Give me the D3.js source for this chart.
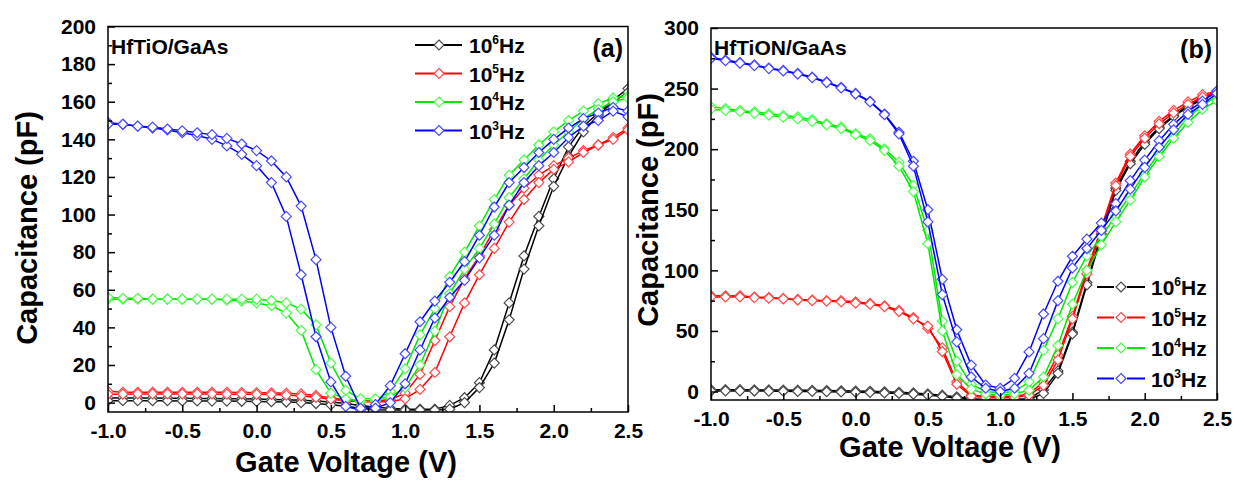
<!DOCTYPE html>
<html>
<head>
<meta charset="utf-8">
<script src="https://cdn.jsdelivr.net/npm/d3@7"></script>
<style>
body{margin:0;background:#fff;}
svg{font-family:"Liberation Sans",Arial,sans-serif;font-weight:bold;}
</style>
</head>
<body>
<svg id="screen" width="1236" height="483"></svg>
<script>
// gate voltage sweep (V), same for every curve
var voltage=[-1.0,-0.9,-0.8,-0.7,-0.6,-0.5,-0.4,-0.3,-0.2,-0.1,0.0,0.1,0.2,0.3,0.4,0.5,0.6,0.7,0.8,0.9,1.0,1.1,1.2,1.3,1.4,1.5,1.6,1.7,1.8,1.9,2.0,2.1,2.2,2.3,2.4,2.5];
var freqExp=["6","5","4","3"];
var xTicks=[-1.0,-0.5,0.0,0.5,1.0,1.5,2.0,2.5];
var aYTicks=[0,20,40,60,80,100,120,140,160,180,200];
var bYTicks=[0,50,100,150,200,250,300];

// (a) HfTiO/GaAs, capacitance in pF, two sweeps per frequency
var aBlackF=[2.5,2.5,2.4,2.4,2.3,2.3,2.2,2.2,2.1,2.0,1.9,1.7,1.5,1.2,0.8,0.3,-0.5,-1.5,-2.5,-3.0,-3.5,-3.5,-3.5,-1.5,2.6,10.6,28,53,78,99,119,136,147,154,161,167];
var aBlackR=[1.0,1.0,1.0,1.0,1.0,0.9,0.9,0.8,0.8,0.7,0.6,0.5,0.3,0.0,-0.5,-1.2,-2.0,-3.0,-3.8,-4.0,-4.0,-4.0,-4.0,-3.5,0.0,8,21,44,71,94,115,131,144,153,160,165];
var aRedF=[6.0,5.5,5.5,5.5,5.5,5.5,5.5,5.5,5.5,5.4,5.3,5.2,5.0,4.6,3.8,2.5,1.5,1.0,1.0,1.5,5,15,33,51,66,78,92,105,114,121,126,130,134,137,141,146];
var aRedR=[4.5,4.5,4.6,4.6,4.6,4.6,4.6,4.6,4.5,4.5,4.4,4.3,4.0,3.5,2.8,1.8,1.0,0.5,0.5,0.5,2,7,16,35,53,68,82,96,108,117,124,128,133,137,140,145];
var aGreenF=[55,55,55,55,55,55,55,55,54.5,54,53,51.5,47.6,38.4,17.5,5,2,0.5,1,6,18,36,50,67,80,94,108,121,129,137,144,150,155,159,162,163];
var aGreenR=[56,55.5,55.5,55,55,55,55,55,55,55,55,54.3,53,49.7,41.4,21,6.5,2,2,3,8,20,38,58,71,82,95,109,119,129,137,144,151,156,160,162];
var aBlueF=[149,148,147,146,145,143.5,142,140,136.5,132,126,117,99,68,35,11,-2,-4,-1,9,26,43,54,64,75,89,104,117,125,133,140,146,151,154,157,155];
var aBlueR=[148,148,147,146.5,145.5,144.5,143.5,142.5,140.5,137.5,134,128.5,120,104.5,76,40,14,-3,-3,0,10,28,45,56,65,77,89,105,117,126,133,141,147,150,155,152];

// (b) HfTiON/GaAs
var bBlackF=[1.5,1.5,1.5,1.4,1.3,1.2,1.1,1.0,0.8,0.6,0.4,0.2,-0.2,-0.6,-1.2,-2,-3,-4.5,-6,-6.5,-6.5,-6.5,-6,1.5,17,49,90,130,168,190,206,218,228,236,242,248];
var bBlackR=[0.5,0.5,0.5,0.4,0.3,0.2,0.1,0,-0.2,-0.4,-0.6,-0.8,-1.2,-1.6,-2.2,-3,-4,-5.5,-6.5,-7,-7,-7,-6.5,-1.5,15,47.5,88,128,166,188,204,217,227,235,241,247];
var bRedF=[79,79,79,78,77.6,76.8,76,75.5,75,75,74,72.7,70.8,67,61,52,36,8,-3,-4,-4,-4,-2,8,30,62,100,135,172,196,211,223,232,239,245,248];
var bRedR=[78,78,78,77.5,77,76.5,75.5,75,74.5,74,73,72,70,66,60,54,33,6,-4,-5,-5,-5,-3,5,26,60,97,132,170,194,209,221,230,237,243,247];
var bGreenF=[235,233.5,232,230.7,229.3,227.9,226.6,224.4,221,218.3,212.8,208.6,200.3,189.3,170,133,58,25,6,0,-1,0,8,34,60,90,112,128,145,162,180,197,212,226,236,244];
var bGreenR=[233,232,231,229.5,228,226.5,225,223,220,217,212,207,199,186,165,122,50,14,2,-2,-3,-2,1,12,38,72,100,121,140,158,177,194,209,222,233,240];
var bBlueF=[276,273.5,271.5,269.5,267,265,262.5,259.5,255.5,251,246,239.5,229,214,190,150,92.6,51,21.8,5.4,2.7,10.9,32.7,64,91,111.6,125.8,139,155,174,191,207,220.5,231,239.6,248];
var bBlueR=[275,273,271,269,266.5,264.5,262,259,255,250.5,245.5,239,228.5,212.5,186,140,80,41,12,2.7,0,2.7,15,43.6,75,102,118,133,149,167,185,201.5,216,228.7,237,246];

var lineColors=["#000000","#ff0000","#00e800","#0000ff"];
var markColors=["#4a4a4a","#ff4a4a","#4aff4a","#4a4aff"];

var svg=d3.select("#screen");
var diamond="M0,-5L5,0L0,5L-5,0Z";

// tick text with a plain hyphen, like the original
function fmtV(d){ return d.toFixed(1); }

function drawPanel(p){
    var x=d3.scaleLinear().domain([-1,2.5]).range([p.left,p.right]);
    var y=d3.scaleLinear().domain(p.yDomain).range([p.bottom,p.top]);
    var g=svg.append("g");

    g.append("clipPath").attr("id","clip"+p.id).append("rect")
        .attr("x",p.left).attr("y",p.top).attr("width",p.right-p.left).attr("height",p.bottom-p.top);

    var plot=g.append("g").attr("clip-path","url(#clip"+p.id+")");
    var line=d3.line().x(function(d){return x(d[0]);}).y(function(d){return y(d[1]);});

    p.series.forEach(function(pair,k){
        pair.forEach(function(vals){
            var pts=voltage.map(function(v,i){return [v,vals[i]];});
            plot.append("path").datum(pts).attr("d",line)
                .attr("fill","none").attr("stroke",lineColors[k]).attr("stroke-width",1.5);
            plot.selectAll(null).data(pts).enter().append("path")
                .attr("d",diamond)
                .attr("transform",function(d){return "translate("+x(d[0])+","+y(d[1])+")";})
                .attr("fill","#fff").attr("stroke",markColors[k]).attr("stroke-width",1.2);
        });
    });

    // frame
    g.append("rect").attr("x",p.left).attr("y",p.top).attr("width",p.right-p.left).attr("height",p.bottom-p.top)
        .attr("fill","none").attr("stroke","#000").attr("stroke-width",1.5);

    // bottom axis, ticks inside
    var xAxis=d3.axisBottom(x).tickValues(xTicks).tickSize(-7).tickPadding(11).tickFormat(fmtV);
    var gx=g.append("g").attr("transform","translate(0,"+p.bottom+")").call(xAxis);
    gx.select(".domain").remove();
    gx.selectAll("text").attr("font-size",21).attr("font-family","Liberation Sans, Arial, sans-serif").attr("font-weight","bold").attr("fill","#000");
    gx.selectAll("line").attr("stroke-width",1.5);
    var xMinor=d3.axisBottom(x).tickValues(xTicks.slice(1).map(function(d){return d-0.25;})).tickSize(-4).tickFormat("");
    var gxm=g.append("g").attr("transform","translate(0,"+p.bottom+")").call(xMinor);
    gxm.select(".domain").remove();
    gxm.selectAll("line").attr("stroke-width",1.5);

    // left axis
    var yAxis=d3.axisLeft(y).tickValues(p.yTicks).tickSize(-7).tickPadding(12);
    var gy=g.append("g").attr("transform","translate("+p.left+",0)").call(yAxis);
    gy.select(".domain").remove();
    gy.selectAll("text").attr("font-size",21).attr("font-family","Liberation Sans, Arial, sans-serif").attr("font-weight","bold").attr("fill","#000");
    gy.selectAll("line").attr("stroke-width",1.5);
    var step=p.yTicks[1]-p.yTicks[0];
    var yMinor=d3.axisLeft(y).tickValues(p.yTicks.slice(1).map(function(d){return d-step/2;})).tickSize(-4).tickFormat("");
    var gym=g.append("g").attr("transform","translate("+p.left+",0)").call(yMinor);
    gym.select(".domain").remove();
    gym.selectAll("line").attr("stroke-width",1.5);

    // axis titles
    g.append("text").attr("x",p.xTitleX).attr("y",p.xTitleY).attr("text-anchor","middle")
        .attr("font-size",29).text("Gate Voltage (V)");
    g.append("text").attr("transform","translate("+p.yTitleX+","+p.yTitleY+") rotate(-90)")
        .attr("text-anchor","middle").attr("dy","0.35em").attr("font-size",29).text("Capacitance (pF)");

    // sample and panel labels
    g.append("text").attr("x",p.left+3).attr("y",p.top+27).attr("font-size",21).text(p.sample);
    g.append("text").attr("x",p.right-5).attr("y",p.top+30).attr("text-anchor","end").attr("font-size",25).text(p.tag);

    // legend
    var leg=g.selectAll(".leg").data(freqExp).enter().append("g")
        .attr("transform",function(d,i){return "translate("+p.legX+","+(p.legY+i*p.legStep)+")";});
    leg.each(function(d,i){
        var row=d3.select(this);
        if(p.legGap){
            row.append("line").attr("x1",0).attr("x2",17).attr("stroke",lineColors[i]).attr("stroke-width",2);
            row.append("line").attr("x1",30).attr("x2",48).attr("stroke",lineColors[i]).attr("stroke-width",2);
        }else{
            row.append("line").attr("x1",0).attr("x2",47).attr("stroke",lineColors[i]).attr("stroke-width",2);
        }
        row.append("path").attr("d",diamond).attr("transform","translate(24,0)")
            .attr("fill","#fff").attr("stroke",markColors[i]).attr("stroke-width",1.2);
        var t=row.append("text").attr("x",54).attr("y",8).attr("font-size",21);
        t.append("tspan").text("10");
        t.append("tspan").attr("dy",-9).attr("font-size",12).text(d);
        t.append("tspan").attr("dy",9).text("Hz");
    });
}

drawPanel({id:"a",left:108,right:628,top:26.5,bottom:412,yDomain:[-5,200],yTicks:aYTicks,
    series:[[aBlackF,aBlackR],[aRedF,aRedR],[aGreenF,aGreenR],[aBlueF,aBlueR]],
    xTitleX:346,xTitleY:472,yTitleX:27,yTitleY:228,sample:"HfTiO/GaAs",tag:"(a)",
    legX:415,legY:45,legStep:28.5,legGap:false});

drawPanel({id:"b",left:711,right:1217,top:28,bottom:400,yDomain:[-7,300],yTicks:bYTicks,
    series:[[bBlackF,bBlackR],[bRedF,bRedR],[bGreenF,bGreenR],[bBlueF,bBlueR]],
    xTitleX:950,xTitleY:457,yTitleX:648,yTitleY:210,sample:"HfTiON/GaAs",tag:"(b)",
    legX:1097,legY:287,legStep:30.5,legGap:true});
</script>
</body>
</html>
